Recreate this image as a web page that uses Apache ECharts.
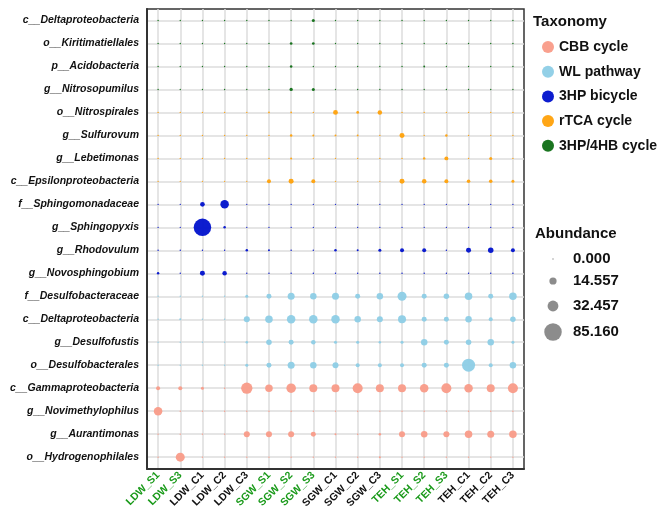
<!DOCTYPE html>
<html>
<head>
<meta charset="utf-8">
<script src="https://cdn.jsdelivr.net/npm/echarts@6/dist/echarts.min.js"></script>
<style>
  html, body { margin: 0; padding: 0; background: #fff; }
  #main { width: 671px; height: 511px; }
</style>
</head>
<body>
<div id="main"></div>
<script>
// samples (x axis)
var samples = ['LDW_S1', 'LDW_S3', 'LDW_C1', 'LDW_C2', 'LDW_C3',
  'SGW_S1', 'SGW_S2', 'SGW_S3', 'SGW_C1', 'SGW_C2', 'SGW_C3',
  'TEH_S1', 'TEH_S2', 'TEH_S3', 'TEH_C1', 'TEH_C2', 'TEH_C3'];

// taxa, top to bottom
var taxa = ['c__Deltaproteobacteria', 'o__Kiritimatiellales', 'p__Acidobacteria', 'g__Nitrosopumilus',
  'o__Nitrospirales', 'g__Sulfurovum', 'g__Lebetimonas', 'c__Epsilonproteobacteria',
  'f__Sphingomonadaceae', 'g__Sphingopyxis', 'g__Rhodovulum', 'g__Novosphingobium',
  'f__Desulfobacteraceae', 'c__Deltaproteobacteria', 'g__Desulfofustis', 'o__Desulfobacterales',
  'c__Gammaproteobacteria', 'g__Novimethylophilus', 'g__Aurantimonas', 'o__Hydrogenophilales'];

// pathway of every taxon (index into pathways)
var taxonPathway = [4, 4, 4, 4, 3, 3, 3, 3, 2, 2, 2, 2, 1, 1, 1, 1, 0, 0, 0, 0];

var pathways = ['CBB cycle', 'WL pathway', '3HP bicycle', 'rTCA cycle', '3HP/4HB cycle'];
var pathwayColors = ['#F99B88', '#8DCDE6', '#0011CC', '#FFA10A', '#0E6E14'];

// abundance, one row per taxon, one column per sample
var abundance = [
  [0.2, 0.2, 0.2, 0.2, 0.2, 0.2, 0.2, 2.5, 0.2, 0.2, 0.2, 0.2, 0.2, 0.2, 0.2, 0.2, 0.2],
  [0.2, 0.2, 0.2, 0.2, 0.2, 0.2, 2.0, 2.0, 0.2, 0.2, 0.2, 0.2, 0.2, 0.2, 0.2, 0.2, 0.2],
  [0.2, 0.2, 0.2, 0.2, 0.2, 0.2, 1.8, 0.2, 0.2, 0.2, 0.2, 0.2, 1.0, 0.2, 0.2, 0.2, 0.2],
  [0.2, 0.2, 0.2, 0.2, 0.2, 0.2, 3.0, 2.5, 0.2, 0.2, 0.2, 0.2, 0.2, 0.2, 0.2, 0.2, 0.2],
  [0.2, 0.2, 0.2, 0.2, 0.2, 0.8, 0.8, 0.3, 6.5, 2.0, 5.5, 0.2, 0.2, 0.2, 0.2, 0.2, 0.3],
  [0.2, 0.2, 0.2, 0.2, 0.2, 0.3, 1.7, 1.1, 1.0, 1.0, 0.3, 6.9, 0.5, 1.7, 0.2, 0.2, 0.2],
  [0.2, 0.2, 0.2, 0.2, 0.2, 0.2, 1.1, 0.3, 0.2, 0.2, 0.2, 0.2, 1.7, 4.4, 0.3, 2.5, 0.6],
  [0.2, 0.2, 0.2, 0.2, 0.3, 4.4, 6.9, 4.4, 0.6, 0.3, 0.5, 6.9, 5.6, 4.4, 3.4, 3.4, 2.5],
  [0.2, 0.2, 6.1, 20.0, 0.2, 0.2, 0.2, 0.2, 0.2, 0.2, 0.2, 0.2, 0.2, 0.2, 0.2, 0.2, 0.2],
  [0.2, 0.2, 85.16, 1.7, 0.2, 0.2, 0.2, 0.2, 0.2, 0.2, 0.2, 0.2, 0.2, 0.2, 0.2, 0.2, 0.2],
  [0.3, 0.3, 0.3, 0.3, 1.7, 1.1, 0.6, 0.6, 1.7, 1.1, 2.5, 4.4, 4.4, 0.6, 6.9, 8.4, 4.4],
  [1.7, 0.2, 6.9, 5.6, 0.2, 0.2, 0.2, 0.2, 0.2, 0.2, 0.2, 0.2, 0.2, 0.2, 0.2, 0.2, 0.2],
  [0.2, 0.2, 0.2, 0.2, 2.5, 6.9, 13.6, 11.7, 13.6, 6.9, 11.7, 22.4, 6.9, 8.4, 15.6, 6.9, 15.6],
  [0.2, 1.1, 0.3, 0.2, 10.0, 15.6, 20.0, 20.0, 20.0, 11.7, 10.0, 17.7, 6.9, 6.9, 11.7, 4.4, 8.4],
  [0.2, 0.2, 0.2, 0.2, 1.7, 8.4, 6.9, 5.6, 2.5, 2.5, 1.7, 2.5, 11.7, 6.9, 8.4, 11.7, 2.5],
  [0.2, 0.2, 0.2, 0.2, 2.5, 6.9, 13.6, 11.7, 10.0, 4.4, 4.4, 4.4, 6.9, 6.9, 46.8, 4.4, 11.7],
  [4.4, 4.4, 2.5, 0.6, 35.0, 15.6, 25.0, 17.7, 17.7, 27.7, 17.7, 17.7, 20.0, 27.7, 20.0, 17.7, 27.7],
  [20.0, 0.2, 0.2, 0.4, 0.2, 0.2, 0.2, 0.2, 0.2, 0.2, 0.2, 0.2, 0.2, 0.2, 0.2, 0.2, 0.2],
  [0.2, 0.2, 0.2, 0.2, 10.0, 10.0, 10.0, 6.9, 1.1, 0.6, 1.7, 10.0, 11.7, 10.0, 15.6, 13.6, 15.6],
  [0.2, 22.4, 0.2, 0.2, 0.2, 0.2, 0.2, 0.2, 0.2, 0.2, 1.1, 0.2, 0.2, 0.2, 0.2, 0.2, 0.2]
];

// size legend keys
var abundanceKeys = [0.000, 14.557, 32.457, 85.160];

var FONT = 'Liberation Sans';

function bubbleSize(v) {
    return Math.max(1.4, 1.9 * Math.sqrt(v));
}

var myChart = echarts.init(document.getElementById('main'));

var series = pathways.map(function (p, k) {
    var data = [];
    for (var r = 0; r < taxa.length; r++) {
        if (taxonPathway[r] !== k) continue;
        for (var c = 0; c < samples.length; c++) {
            data.push([c, r, abundance[r][c]]);
        }
    }
    return {
        name: p,
        type: 'scatter',
        data: data,
        symbol: 'circle',
        symbolSize: function (val) { return bubbleSize(val[2]); },
        itemStyle: { color: pathwayColors[k], opacity: 0.95 },
        emphasis: { disabled: true },
        z: 3
    };
});

// size legend, drawn as graphic elements
var graphics = [{
    type: 'text', left: 535, top: 226,
    style: { text: 'Abundance', font: 'bold 15px ' + FONT, fill: '#111' }
}];
var keyY = [259, 281, 306, 332];
abundanceKeys.forEach(function (v, i) {
    graphics.push({
        type: 'circle',
        shape: { cx: 553, cy: keyY[i], r: bubbleSize(v) / 2 },
        style: { fill: '#808080', opacity: 0.9 }
    });
    graphics.push({
        type: 'text', x: 573, y: keyY[i],
        style: { text: v.toFixed(3), font: 'bold 15px ' + FONT, fill: '#111', verticalAlign: 'middle' }
    });
});

var option = {
    animation: false,
    backgroundColor: '#fff',
    title: {
        text: 'Taxonomy', left: 528, top: 9,
        textStyle: { fontFamily: FONT, fontSize: 15, fontWeight: 'bold', color: '#111' }
    },
    legend: {
        data: pathways.map(function (p) { return { name: p, icon: 'circle' }; }),
        orient: 'vertical',
        left: 537, top: 35,
        itemWidth: 12, itemHeight: 12, itemGap: 10.7,
        selectedMode: false,
        textStyle: { fontFamily: FONT, fontSize: 14, fontWeight: 'bold', color: '#111', lineHeight: 14 }
    },
    grid: {
        left: 147, top: 9, right: 147, bottom: 42,
        show: true, borderColor: '#333', borderWidth: 1.5,
        containLabel: false
    },
    xAxis: {
        type: 'category',
        data: samples,
        boundaryGap: true,
        axisLine: { lineStyle: { color: '#333', width: 2 } },
        axisTick: { alignWithLabel: true, length: 4, lineStyle: { color: '#333', width: 1 } },
        axisLabel: {
            rotate: 45, margin: 5, interval: 0,
            fontFamily: FONT, fontSize: 10.5, fontWeight: 'bold',
            color: function (val) { return val.indexOf('_S') >= 0 ? '#1A9A1A' : '#111'; }
        },
        splitLine: { show: true, alignWithLabel: true, lineStyle: { color: '#DCDCDC', width: 1.5 } }
    },
    yAxis: {
        type: 'category',
        data: taxa,
        inverse: true,
        boundaryGap: true,
        axisLine: { lineStyle: { color: '#333', width: 2 } },
        axisTick: { alignWithLabel: true, length: 5, lineStyle: { color: '#333', width: 1 } },
        axisLabel: {
            margin: 8, interval: 0,
            fontFamily: FONT, fontSize: 10.5, fontWeight: 'bold', fontStyle: 'italic', color: '#111'
        },
        splitLine: { show: true, alignWithLabel: true, lineStyle: { color: '#DCDCDC', width: 1.5 } }
    },
    graphic: graphics,
    series: series
};

myChart.setOption(option);
</script>
</body>
</html>
